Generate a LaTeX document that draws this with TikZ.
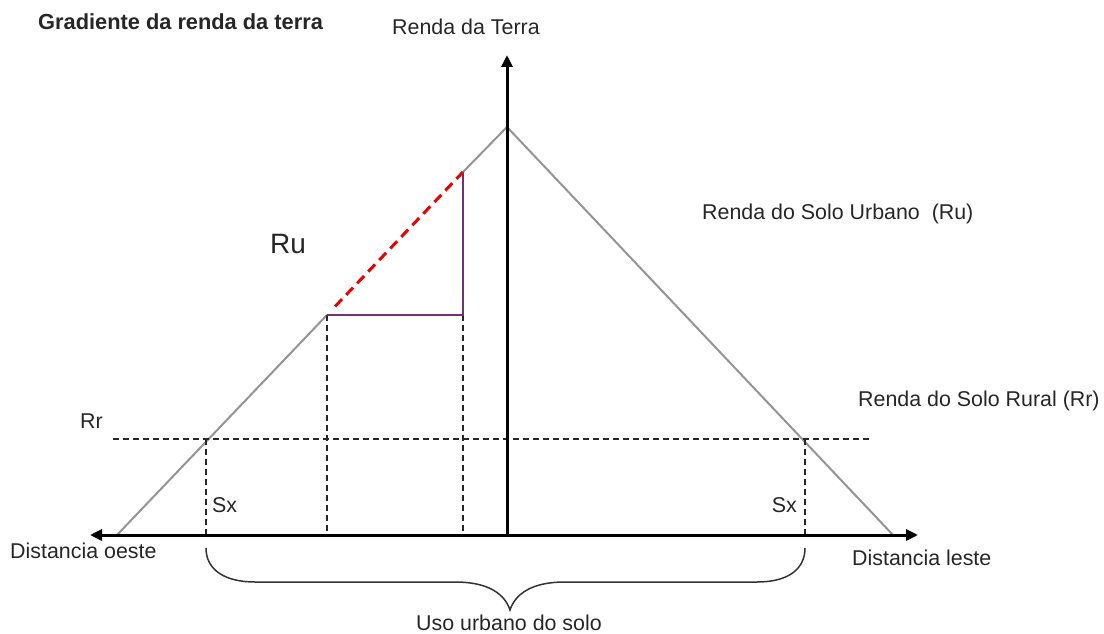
\documentclass[tikz,border=0pt]{standalone}
\usepackage{fontspec}
\setmainfont{Liberation Sans}
\usetikzlibrary{arrows.meta,calc}
\begin{document}
\begin{tikzpicture}[x=1pt,y=-1pt,
  lbl/.style={inner sep=0pt,font=\fontsize{21.4}{24}\selectfont,text=black!85},
  axisline/.style={line width=3pt,-{Triangle[length=12pt,width=11pt]}},
  slope/.style={line width=2pt,draw=black!42},
  guide/.style={line width=1.5pt,draw=black!85,dash pattern=on 6pt off 4pt},
  reddash/.style={line width=3pt,draw=red!90!black,dash pattern=on 10pt off 6pt},
  purp/.style={line width=2pt,draw=violet!60!black!80},
  bracestyle/.style={line width=1.5pt,draw=black!80}]
\useasboundingbox (0,0) rectangle (1104,634);
% key points
\coordinate (O) at (507,535);
\coordinate (top) at (507,55);
\coordinate (apex) at (507,127);
\coordinate (L) at (117,535);
\coordinate (R) at (893,535);
\coordinate (west) at (90,535);
\coordinate (east) at (918,535);
\coordinate (A) at (327,315);
\coordinate (B) at (463,172);
\coordinate (C) at (463,315);
\coordinate (A0) at (327,535);
\coordinate (C0) at (463,535);
\coordinate (rrL) at (113,439);
\coordinate (rrR) at (870,439);
\coordinate (sL) at (206,439);
\coordinate (sR) at (805,439);
\coordinate (sL0) at (206,535);
\coordinate (sR0) at (805,535);
\coordinate (bL) at (206,548);
\coordinate (bR) at (805,548);
\coordinate (btip) at (510,610);
% triangle
\draw[slope] (L) -- (A);
\draw[slope] (B) -- (apex) -- (R);
% guides
\draw[guide] (rrL) -- (rrR);
\draw[guide] (sL) -- (sL0);
\draw[guide] (sR) -- (sR0);
\draw[guide] (A) -- (A0);
\draw[guide] (C) -- (C0);
% red dashed and purple
\draw[reddash] ($(A)!0.06!(B)$) -- (B);
\draw[purp] (A) -- (C) -- (B);
% axes
\draw[axisline] (O) -- (top);
\draw[line width=3pt,{Triangle[length=12pt,width=11pt]}-{Triangle[length=12pt,width=11pt]}] (west) -- (east);
% brace
\draw[bracestyle] (bL) .. controls (206,570) and (225,582) .. (255,582) -- (455,582)
  .. controls (490,582) and (505,595) .. (btip)
  .. controls (515,595) and (530,582) .. (565,582) -- (757,582)
  .. controls (787,582) and (805,570) .. (bR);
% labels
\node[lbl,font=\fontsize{21.8}{24}\selectfont\bfseries,anchor=base west] (title) at (38,30) {Gradiente da renda da terra};
\node[lbl,anchor=base] (yl) at (466,35) {Renda da Terra};
\node[lbl,anchor=base west] (ru) at (702,219) {Renda do Solo Urbano\ \ (Ru)};
\node[lbl,font=\fontsize{28}{30}\selectfont,anchor=base west] (ru2) at (270,253) {Ru};
\node[lbl,anchor=base west] (rr) at (858,406) {Renda do Solo Rural (Rr)};
\node[lbl,anchor=base west] (rr2) at (80,428) {Rr};
\node[lbl,anchor=base west] (sx1) at (212,512) {Sx};
\node[lbl,anchor=base east] (sx2) at (797,512) {Sx};
\node[lbl,anchor=base west] (dw) at (10,558) {Distancia oeste};
\node[lbl,anchor=base west] (de) at (852,565) {Distancia leste};
\node[lbl,anchor=base] (uso) at (509,630) {Uso urbano do solo};
\end{tikzpicture}
\end{document}
